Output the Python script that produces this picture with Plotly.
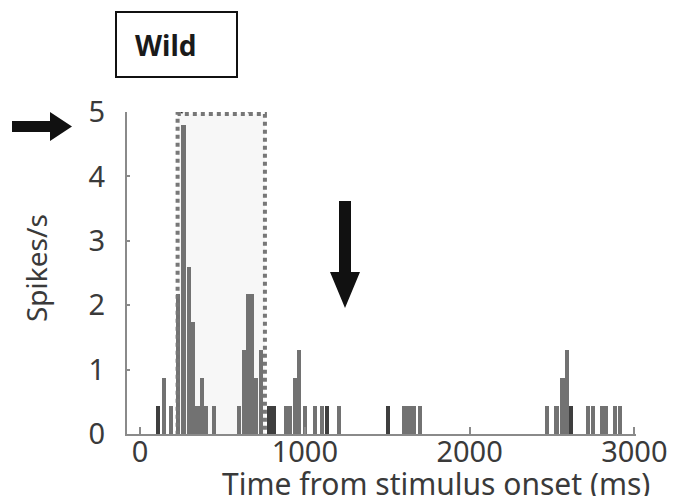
import plotly.graph_objects as go

# ---- data ----
bin_centers_ms = [109, 146, 188, 231, 264, 297, 322, 349, 376, 400, 448,
                  601, 634, 655, 680, 704, 734, 783, 810,
                  886, 910, 941, 965, 1001, 1062, 1104, 1135, 1208,
                  1505, 1602, 1630, 1660, 1700,
                  2470, 2527, 2564, 2591, 2615, 2718, 2749, 2803, 2828, 2882, 2913]
spike_rates = [0.43, 0.87, 0.43, 2.17, 4.8, 2.6, 1.74, 0.43, 0.87, 0.43, 0.43,
               0.43, 1.3, 2.17, 2.17, 0.87, 1.3, 0.43, 0.43,
               0.43, 0.43, 0.87, 1.3, 0.43, 0.43, 0.43, 0.43, 0.43,
               0.43, 0.43, 0.43, 0.43, 0.43,
               0.43, 0.43, 0.87, 1.3, 0.43, 0.43, 0.43, 0.43, 0.43, 0.43, 0.43]
dark_bins_ms = [109, 783, 810, 1135, 1505, 2615]
event_times_ms = [255, 660]
window_ms = [228, 758]
x_ticks = [0, 1000, 2000, 3000]
y_ticks = [0, 1, 2, 3, 4, 5]
panel_label = "Wild"
x_title = "Time from stimulus onset (ms)"
y_title = "Spikes/s"

# ---- layout geometry (page has an 8px body margin) ----
OFF = 8
W, H = 678 - 2 * OFF, 504 - 2 * OFF
ML, MT = 127 - OFF, 112 - OFF
MR = W - (636 - OFF)
MB = H - (434 - OFF)
PW, PH = W - ML - MR, H - MT - MB
XR = [-79, 3010]
YR = [0, 5]

def px_to_dx(p):
    return p / PW * (XR[1] - XR[0])

def px_to_dy(p):
    return p / PH * (YR[1] - YR[0])

def paper_x(px):
    return (px - OFF - ML) / PW

def paper_y(py):
    return (H - MB - (py - OFF)) / PH

MID = "#727272"
DARK = "#3e3e3e"
colors = [DARK if c in dark_bins_ms else MID for c in bin_centers_ms]

fig = go.Figure()
fig.add_trace(go.Bar(x=bin_centers_ms, y=spike_rates, width=27,
                     marker=dict(color=colors, line=dict(width=0)),
                     showlegend=False, hoverinfo="skip"))

shapes = []
shapes.append(dict(type="rect", xref="x", yref="y", x0=window_ms[0], x1=window_ms[1],
                   y0=-0.07, y1=4.97, fillcolor="#f7f7f7", line=dict(width=0), layer="below"))
shapes.append(dict(type="rect", xref="x", yref="y", x0=window_ms[0], x1=window_ms[1],
                   y0=-0.07, y1=4.97, line=dict(color="#777777", width=4, dash="4px,4px"),
                   layer="above"))
hw = px_to_dx(16)
tip = 4.97
top = tip + px_to_dy(21)
t0, t1 = event_times_ms
shapes.append(dict(type="path", xref="x", yref="y",
                   path=f"M{t0-hw},{top} L{t0},{top} L{t0},{tip} Z",
                   fillcolor="#1e1e1e", line=dict(width=0), layer="above"))
shapes.append(dict(type="path", xref="x", yref="y",
                   path=f"M{t0},{top} L{t0+hw},{top} L{t0},{tip} Z",
                   fillcolor="#555555", line=dict(width=0), layer="above"))
shapes.append(dict(type="path", xref="x", yref="y",
                   path=f"M{t1-hw},{top} L{t1+hw},{top} L{t1},{tip} Z",
                   fillcolor="#8a8a8a", line=dict(width=0), layer="above"))

def pp(px, py):
    return f"{paper_x(px)},{paper_y(py)}"

la = ("M" + pp(12, 121) + " L" + pp(50, 121) + " L" + pp(50, 112) + " L" + pp(72, 126.5)
      + " L" + pp(50, 141) + " L" + pp(50, 132) + " L" + pp(12, 132) + " Z")
shapes.append(dict(type="path", xref="paper", yref="paper", path=la,
                   fillcolor="#111111", line=dict(width=0)))
da = ("M" + pp(339, 201) + " L" + pp(351, 201) + " L" + pp(351, 272) + " L" + pp(360, 272)
      + " L" + pp(345, 308) + " L" + pp(330, 272) + " L" + pp(339, 272) + " Z")
shapes.append(dict(type="path", xref="paper", yref="paper", path=da,
                   fillcolor="#111111", line=dict(width=0)))
shapes.append(dict(type="rect", xref="paper", yref="paper",
                   x0=paper_x(116), x1=paper_x(237), y0=paper_y(77), y1=paper_y(12),
                   line=dict(color="#111111", width=2), fillcolor="white"))

annotations = [
    dict(text=f"<b>{panel_label}</b>", xref="paper", yref="paper",
         x=paper_x(166), y=paper_y(45), xanchor="center", yanchor="middle", showarrow=False,
         font=dict(family="Noto Sans", size=28, color="#1a1a1a")),
    dict(text=x_title, xref="paper", yref="paper", x=paper_x(436), y=paper_y(483),
         xanchor="center", yanchor="middle",
         showarrow=False, font=dict(family="Noto Sans", size=30, color="#3a3a3a")),
    dict(text=y_title, xref="paper", yref="paper", x=paper_x(36), y=paper_y(268),
         xanchor="center", yanchor="middle",
         textangle=-90, showarrow=False,
         font=dict(family="Noto Sans", size=28, color="#3a3a3a")),
]

fig.update_layout(
    width=W, height=H, margin=dict(l=ML, r=MR, t=MT, b=MB, autoexpand=False),
    plot_bgcolor="white", paper_bgcolor="white", bargap=0,
    shapes=shapes, annotations=annotations,
    xaxis=dict(range=XR, tickvals=x_ticks, ticktext=[str(v) for v in x_ticks],
               showgrid=False, zeroline=False, showline=True, linecolor="#8a8a8a",
               linewidth=2, ticks="inside", ticklen=7, tickwidth=2, tickcolor="#8a8a8a",
               ticklabelstandoff=-9,
               tickfont=dict(family="Noto Sans", size=29, color="#3a3a3a")),
    yaxis=dict(range=YR, tickvals=y_ticks, ticktext=[str(v) for v in y_ticks],
               showgrid=False, zeroline=False, showline=True, linecolor="#8a8a8a",
               linewidth=2, ticks="inside", ticklen=3, tickwidth=2, tickcolor="#8a8a8a",
               ticklabelstandoff=14,
               tickfont=dict(family="Noto Sans", size=29, color="#3a3a3a")),
)
fig.write_html("out.html")
